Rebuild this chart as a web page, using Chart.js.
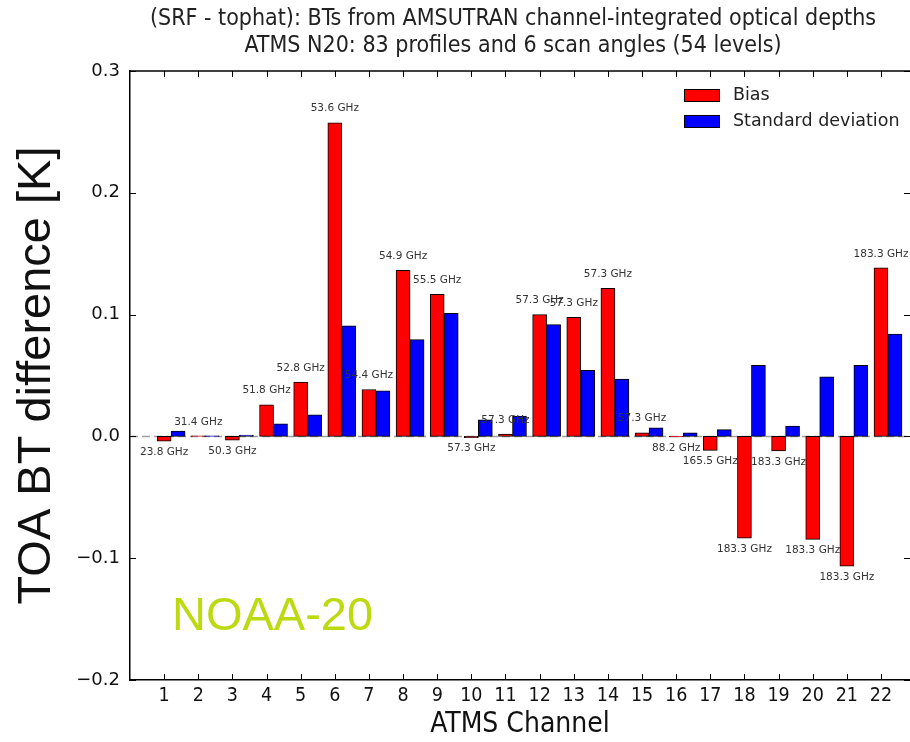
<!DOCTYPE html>
<html>
<head>
<meta charset="utf-8">
<script src="https://cdn.jsdelivr.net/npm/chart.js@4.4.1/dist/chart.umd.min.js"></script>
<style>
  html, body { margin: 0; padding: 0; background: #fff; }
  #wrap { width: 910px; height: 742px; }
</style>
</head>
<body>
<div id="wrap"><canvas id="chart" width="910" height="742"></canvas></div>
<script>
// Canales ATMS y sus frecuencias
const channels = [1, 2, 3, 4, 5, 6, 7, 8, 9, 10, 11, 12, 13, 14, 15, 16, 17, 18, 19, 20, 21, 22];
const freqLabels = ['23.8 GHz', '31.4 GHz', '50.3 GHz', '51.8 GHz', '52.8 GHz', '53.6 GHz', '54.4 GHz',
    '54.9 GHz', '55.5 GHz', '57.3 GHz', '57.3 GHz', '57.3 GHz', '57.3 GHz', '57.3 GHz', '57.3 GHz',
    '88.2 GHz', '165.5 GHz', '183.3 GHz', '183.3 GHz', '183.3 GHz', '183.3 GHz', '183.3 GHz'];

// Valores [K]
const bias = [-0.004, 0.0004, -0.003, 0.026, 0.0445, 0.2575, 0.0385, 0.1364, 0.1167, -0.001, 0.002,
    0.100, 0.0978, 0.1216, 0.003, -0.0005, -0.0115, -0.0835, -0.012, -0.0846, -0.1066, 0.1383];
const stdDev = [0.0044, 0.0005, 0.001, 0.0104, 0.0178, 0.0907, 0.0375, 0.0794, 0.101, 0.0137, 0.0167,
    0.0918, 0.0542, 0.047, 0.0071, 0.003, 0.0055, 0.0583, 0.0085, 0.049, 0.0583, 0.0841];

const yTicks = [-0.2, -0.1, 0.0, 0.1, 0.2, 0.3];

const titleLines = ['(SRF - tophat): BTs from AMSUTRAN channel-integrated optical depths',
                    'ATMS N20: 83 profiles and 6 scan angles (54 levels)'];

const condensed = '"DejaVu Sans Condensed", "DejaVu Sans", sans-serif';

function fmtTick(v) {
    const s = Math.abs(v).toFixed(1);
    return v < -1e-9 ? '\u2212' + s : s;
}

// Título, etiquetas, marcas hacia dentro, línea de cero, leyenda y texto NOAA-20
const decorPlugin = {
    id: 'decor',
    beforeDatasetsDraw(chart) {
        const { ctx, chartArea, scales } = chart;
        const y0 = scales.y.getPixelForValue(0);
        ctx.save();
        ctx.strokeStyle = '#a0a0a0';
        ctx.lineWidth = 1.5;
        ctx.setLineDash([8, 4]);
        ctx.beginPath();
        ctx.moveTo(chartArea.left, y0);
        ctx.lineTo(chartArea.right, y0);
        ctx.stroke();
        ctx.restore();
    },
    afterDatasetsDraw(chart) {
        const { ctx, chartArea, scales } = chart;
        const x = scales.x, y = scales.y;
        ctx.save();

        // título (centrado sobre los ejes)
        ctx.font = '23px ' + condensed;
        ctx.fillStyle = '#222';
        ctx.textAlign = 'center';
        ctx.textBaseline = 'middle';
        ctx.fillText(titleLines[0], 513, 19);
        ctx.fillText(titleLines[1], 513, 46);

        // etiquetas de frecuencia
        ctx.font = '10.5px "DejaVu Sans", sans-serif';
        ctx.fillStyle = '#333';
        channels.forEach((c, i) => {
            const px = x.getPixelForValue(c);
            const py = y.getPixelForValue(bias[i]);
            if (bias[i] >= 0) ctx.fillText(freqLabels[i], px, py - 14);
            else ctx.fillText(freqLabels[i], px, py + 11);
        });

        // marcas de los ejes (hacia dentro)
        ctx.strokeStyle = '#000';
        ctx.lineWidth = 1;
        ctx.beginPath();
        channels.forEach(c => {
            const px = Math.round(x.getPixelForValue(c)) + 0.5;
            ctx.moveTo(px, chartArea.bottom); ctx.lineTo(px, chartArea.bottom - 6);
            ctx.moveTo(px, chartArea.top); ctx.lineTo(px, chartArea.top + 6);
        });
        yTicks.forEach(v => {
            const py = Math.round(y.getPixelForValue(v)) + 0.5;
            ctx.moveTo(chartArea.left, py); ctx.lineTo(chartArea.left + 6, py);
            ctx.moveTo(chartArea.right, py); ctx.lineTo(chartArea.right - 6, py);
        });
        ctx.stroke();

        // borde superior
        ctx.lineWidth = 1.5;
        ctx.beginPath();
        ctx.moveTo(chartArea.left, chartArea.top);
        ctx.lineTo(chartArea.right, chartArea.top);
        ctx.stroke();

        // leyenda
        const items = [['Bias', '#ff0000'], ['Standard deviation', '#0000ff']];
        ctx.font = '17.5px "DejaVu Sans", sans-serif';
        ctx.textAlign = 'left';
        items.forEach((it, k) => {
            const ly = 89 + k * 26;
            ctx.fillStyle = it[1];
            ctx.fillRect(684, ly, 36, 13);
            ctx.strokeStyle = '#000';
            ctx.lineWidth = 1;
            ctx.strokeRect(684.5, ly + 0.5, 35, 12);
            ctx.fillStyle = '#222';
            ctx.fillText(it[0], 733, ly + 6.5);
        });

        // NOAA-20
        ctx.font = '47px "Liberation Sans", Arial, sans-serif';
        ctx.fillStyle = '#bdd90f';
        ctx.textBaseline = 'alphabetic';
        ctx.fillText('NOAA-20', 172, 630);
        ctx.restore();
    }
};

const ctx = document.getElementById('chart').getContext('2d');
const myChart = new Chart(ctx, {
    type: 'bar',
    data: {
        datasets: [{
            label: 'Bias',
            data: channels.map((c, i) => ({ x: c, y: bias[i] })),
            backgroundColor: '#ff0000'
        }, {
            label: 'Standard deviation',
            data: channels.map((c, i) => ({ x: c + 0.41, y: stdDev[i] })),
            backgroundColor: '#0000ff'
        }]
    },
    options: {
        responsive: false,
        animation: false,
        grouped: false,
        categoryPercentage: 1,
        barPercentage: 1,
        borderColor: '#000',
        borderWidth: 1,
        borderSkipped: false,
        layout: { padding: { top: 71, right: 0, left: 0, bottom: 0 } },
        plugins: {
            legend: { display: false },
            tooltip: { enabled: false },
            title: { display: false }
        },
        scales: {
            x: {
                type: 'linear',
                min: 0,
                max: 22.85,
                offset: false,
                grid: { display: false, drawTicks: false, offset: false },
                border: { display: true, color: '#000', width: 1.5 },
                afterBuildTicks: s => { s.ticks = channels.map(v => ({ value: v })); },
                ticks: {
                    autoSkip: false,
                    maxRotation: 0,
                    padding: 4,
                    color: '#111',
                    font: { family: condensed, size: 19.5 },
                    callback: v => String(v)
                },
                title: {
                    display: true,
                    text: 'ATMS Channel',
                    color: '#111',
                    font: { family: condensed, size: 28 },
                    padding: { top: 0, bottom: 0 }
                },
                afterFit: s => { s.height = 62; }
            },
            y: {
                min: -0.2,
                max: 0.3,
                grid: { display: false, drawTicks: false },
                border: { display: true, color: '#000', width: 1.5 },
                ticks: {
                    stepSize: 0.1,
                    padding: 10,
                    color: '#111',
                    font: { family: '"DejaVu Sans", sans-serif', size: 18 },
                    callback: v => fmtTick(v)
                },
                title: {
                    display: true,
                    text: 'TOA BT difference [K]',
                    color: '#111',
                    font: { family: '"Liberation Sans", Arial, sans-serif', size: 47 },
                    padding: { top: 9, bottom: 0 }
                },
                afterFit: s => { s.width = 130; }
            }
        }
    },
    plugins: [decorPlugin]
});
</script>
</body>
</html>
